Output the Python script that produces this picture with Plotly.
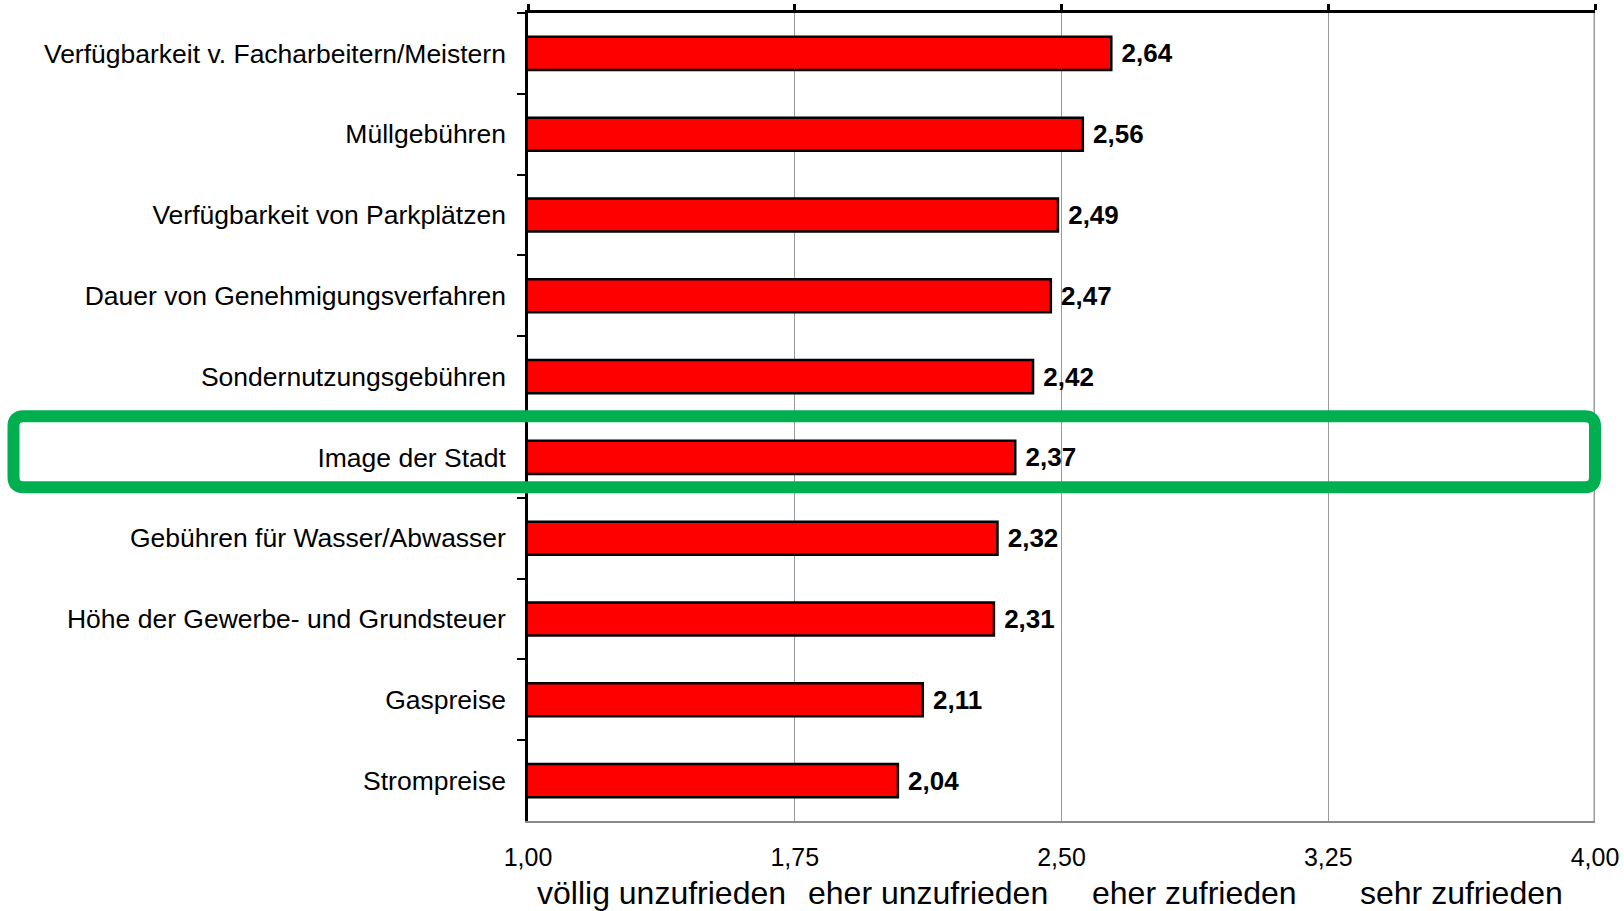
import plotly.graph_objects as go

categories = [
    "Verfügbarkeit v. Facharbeitern/Meistern",
    "Müllgebühren",
    "Verfügbarkeit von Parkplätzen",
    "Dauer von Genehmigungsverfahren",
    "Sondernutzungsgebühren",
    "Image der Stadt",
    "Gebühren für Wasser/Abwasser",
    "Höhe der Gewerbe- und Grundsteuer",
    "Gaspreise",
    "Strompreise",
]
values = [2.64, 2.56, 2.49, 2.47, 2.42, 2.37, 2.32, 2.31, 2.11, 2.04]
value_labels = ["2,64", "2,56", "2,49", "2,47", "2,42", "2,37", "2,32", "2,31", "2,11", "2,04"]
tick_vals = [1.00, 1.75, 2.50, 3.25, 4.00]
tick_text = ["1,00", "1,75", "2,50", "3,25", "4,00"]
scale_labels = ["völlig unzufrieden", "eher unzufrieden", "eher zufrieden", "sehr zufrieden"]
scale_pos = [1.375, 2.125, 2.875, 3.625]
highlight = "Image der Stadt"

FONT = "Liberation Sans, Arial, sans-serif"

fig = go.Figure()
fig.add_trace(go.Bar(
    y=categories, x=values, orientation="h",
    marker=dict(color="#FF0000", line=dict(color="#000000", width=2.5)),
    text=[" " + t for t in value_labels], textposition="outside",
    textfont=dict(family=FONT, size=26, color="#000000", weight="bold"),
    cliponaxis=False, hoverinfo="skip", showlegend=False,
))
# empty helper trace so that the top (tick-only) axis is drawn
fig.add_trace(go.Scatter(x=[], y=[], xaxis="x2", yaxis="y",
                         showlegend=False, hoverinfo="skip"))

fig.update_layout(
    width=1624, height=911,
    margin=dict(l=528, r=29, t=13, b=90, autoexpand=False),
    paper_bgcolor="white", plot_bgcolor="white",
    bargap=0.59,
    font=dict(family=FONT, color="#000000"),
    xaxis=dict(
        range=[1, 4], tickvals=tick_vals, ticktext=tick_text,
        showgrid=True, gridcolor="#9a9a9a", gridwidth=1.2,
        showline=True, linecolor="#8a8a8a", linewidth=2,
        ticks="", ticklabelstandoff=13, automargin=False,
        tickfont=dict(family=FONT, size=25, color="#000000"),
        zeroline=False, fixedrange=True,
    ),
    xaxis2=dict(
        range=[1, 4], tickvals=tick_vals, overlaying="x", side="top",
        anchor="y", automargin=False,
        showticklabels=False, showgrid=False, ticks="outside", ticklen=6,
        tickwidth=2.5, tickcolor="#000000",
        showline=True, linecolor="#000000", linewidth=2.5, zeroline=False,
        fixedrange=True,
    ),
    yaxis=dict(
        autorange="reversed", type="category", automargin=False,
        showline=True, linecolor="#000000", linewidth=2.5,
        ticks="outside", tickson="boundaries", ticklen=8, tickwidth=2,
        tickcolor="#000000", ticklabelstandoff=14,
        tickfont=dict(family=FONT, size=26.5, color="#000000"),
        showgrid=False, fixedrange=True,
    ),
)

# right border of plot area
fig.add_shape(type="line", xref="x", yref="paper", x0=4, x1=4, y0=0, y1=1,
              line=dict(color="#9a9a9a", width=3), layer="above")

# green highlight box (rounded rect) around highlighted category
idx = categories.index(highlight)
x0, x1 = -0.4822, 1.0
y0, y1 = idx - 0.51, idx + 0.37
rx, ry = 0.0094, 0.124
path = (f"M {x0+rx},{y0} L {x1-rx},{y0} Q {x1},{y0} {x1},{y0+ry} "
        f"L {x1},{y1-ry} Q {x1},{y1} {x1-rx},{y1} "
        f"L {x0+rx},{y1} Q {x0},{y1} {x0},{y1-ry} "
        f"L {x0},{y0+ry} Q {x0},{y0} {x0+rx},{y0} Z")
fig.add_shape(type="path", xref="paper", yref="y", path=path,
              line=dict(color="#00B050", width=12), layer="above")

for lbl, pos in zip(scale_labels, scale_pos):
    fig.add_annotation(x=pos, xref="x", y=-0.0895, yref="paper", text=lbl,
                       showarrow=False, yanchor="middle", xanchor="center",
                       font=dict(family=FONT, size=32, color="#000000"))

fig.write_html(
    "out.html",
    config={"displayModeBar": False},
    post_script="document.body.style.margin='0';document.body.style.overflow='hidden';",
)
